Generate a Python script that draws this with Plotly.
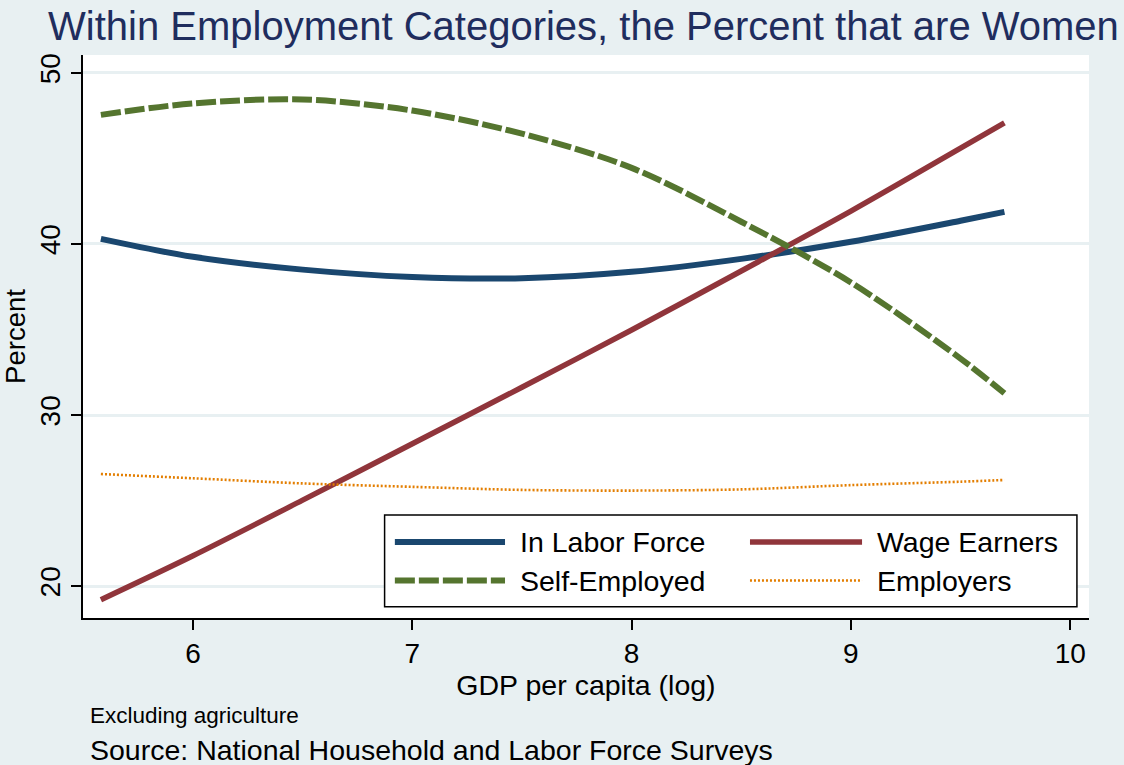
import plotly.graph_objects as go

# GDP per capita (log) at which the fitted shares are evaluated
gdp_log = [5.58, 6.0, 6.5, 7.0, 7.5, 8.0, 8.5, 9.0, 9.5, 9.7]

# Percent of each employment category that are women
in_labor_force = [40.3, 39.25, 38.5, 38.07, 38.0, 38.37, 39.13, 40.13, 41.36, 41.88]
wage_earners = [19.2, 21.77, 25.02, 28.32, 31.62, 34.97, 38.42, 41.92, 45.6, 47.08]
self_employed = [47.55, 48.22, 48.45, 47.8, 46.45, 44.45, 41.3, 37.75, 33.3, 31.27]
employers = [26.55, 26.3, 26.0, 25.8, 25.62, 25.58, 25.65, 25.9, 26.1, 26.2]

series_names = ["In Labor Force", "Wage Earners", "Self-Employed", "Employers"]
y_ticks = [20, 30, 40, 50]
x_ticks = [6, 7, 8, 9, 10]

NAVY = "#1a476f"
MAROON = "#90353b"
GREEN = "#55752f"
ORANGE = "#e37e00"
BG = "#e8f0f2"
FONT = "Liberation Sans, Arial, sans-serif"
TXT = 28.5

styles = {
    "In Labor Force": dict(color=NAVY, width=6, dash="solid"),
    "Wage Earners": dict(color=MAROON, width=5.5, dash="solid"),
    "Self-Employed": dict(color=GREEN, width=6, dash="20px,4px"),
    "Employers": dict(color=ORANGE, width=2.6, dash="2px,2px"),
}
values = {
    "In Labor Force": in_labor_force,
    "Wage Earners": wage_earners,
    "Self-Employed": self_employed,
    "Employers": employers,
}

fig = go.Figure()
for name in series_names:
    fig.add_trace(go.Scatter(
        x=gdp_log, y=values[name], name=name, mode="lines",
        line=dict(shape="spline", smoothing=0.9, **styles[name]),
        showlegend=False, hoverinfo="x+y+name",
    ))

# Boxed two-column key drawn in paper coordinates
shapes = [dict(type="rect", xref="paper", yref="paper",
               x0=0.2998, x1=0.988, y0=0.020, y1=0.183,
               line=dict(color="black", width=1.5), fillcolor="white", layer="above")]
annotations = []
key_layout = [
    ("In Labor Force", 0.310, 0.4195, 0.4320, 0.135),
    ("Wage Earners", 0.663, 0.7744, 0.7870, 0.135),
    ("Self-Employed", 0.310, 0.4195, 0.4320, 0.0666),
    ("Employers", 0.663, 0.7744, 0.7870, 0.0666),
]
for name, x0, x1, xt, yy in key_layout:
    st = styles[name]
    shapes.append(dict(type="line", xref="paper", yref="paper",
                       x0=x0, x1=x1, y0=yy, y1=yy, layer="above",
                       line=dict(color=st["color"], width=st["width"], dash=st["dash"])))
    annotations.append(dict(text=name, xref="paper", yref="paper", x=xt, y=yy,
                            xanchor="left", yanchor="middle", showarrow=False,
                            font=dict(family=FONT, size=TXT, color="black")))

annotations += [
    dict(text="Excluding agriculture", xref="paper", yref="paper",
         x=0.005, y=-0.1723, xanchor="left", yanchor="middle", showarrow=False,
         font=dict(family=FONT, size=22.5, color="black")),
    dict(text="Source: National Household and Labor Force Surveys", xref="paper", yref="paper",
         x=0.005, y=-0.2345, xanchor="left", yanchor="middle", showarrow=False,
         font=dict(family=FONT, size=TXT, color="black")),
]

fig.update_layout(
    width=1124, height=765,
    paper_bgcolor=BG, plot_bgcolor="white",
    margin=dict(l=83, r=35, t=55, b=147),
    title=dict(text="Within Employment Categories, the Percent that are Women",
               x=48 / 1124, xanchor="left", xref="container",
               y=1 - 26 / 765, yanchor="middle", yref="container",
               font=dict(family=FONT, size=40, color="#1f2d5e")),
    shapes=shapes, annotations=annotations,
    font=dict(family=FONT, color="black"),
)

fig.update_xaxes(
    range=[5.4984, 10.0857], tickvals=x_ticks, ticks="outside", ticklen=10,
    tickwidth=1.5, tickcolor="black", showline=True, linecolor="black", linewidth=1.5,
    showgrid=False, zeroline=False, tickfont=dict(family=FONT, size=28, color="black"),
    title=dict(text="GDP per capita (log)", font=dict(family=FONT, size=TXT, color="black"),
               standoff=2),
)
fig.update_yaxes(
    range=[18.13, 51.05], tickvals=y_ticks, ticks="outside", ticklen=10,
    tickwidth=1.5, tickcolor="black", showline=True, linecolor="black", linewidth=1.5,
    showgrid=True, gridcolor=BG, gridwidth=2.5, zeroline=False, tickangle=-90,
    tickfont=dict(family=FONT, size=28, color="black"),
    title=dict(text="Percent", font=dict(family=FONT, size=27.5, color="black"), standoff=4),
)

fig.write_html("out.html")
